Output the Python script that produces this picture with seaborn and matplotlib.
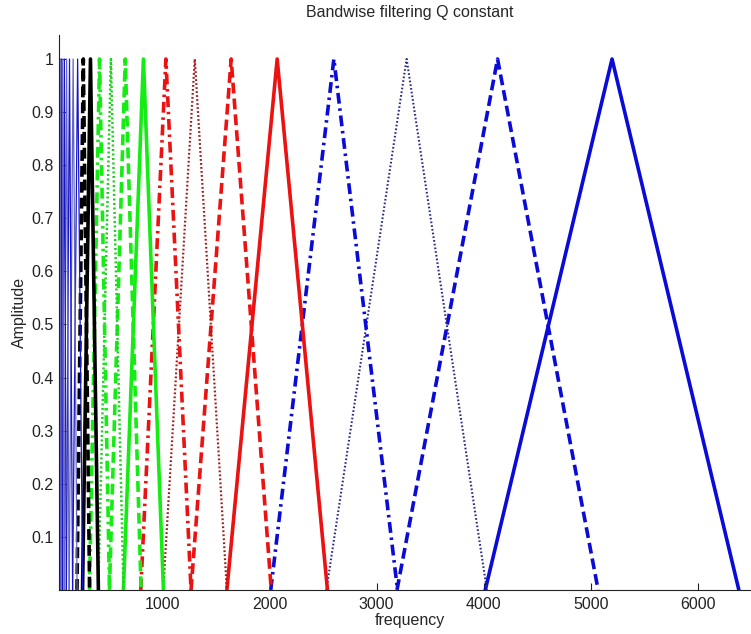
import matplotlib
matplotlib.use("Agg")
import matplotlib.pyplot as plt
import seaborn as sns
import pandas as pd

# Centre frequency and band edges (Hz) of each triangular filter, highest first
centers = [5200, 4130, 3280, 2600, 2070, 1640, 1300, 1030, 820, 650, 516, 410,
           325, 258, 205, 163, 129, 102, 81, 64, 51, 41]
lows = [4015, 3190, 2530, 2010, 1600, 1265, 1005, 795, 633, 502, 398, 316,
        251, 199, 158, 126, 100, 79, 63, 49, 39, 32]
highs = [6385, 5070, 4030, 3195, 2540, 2015, 1600, 1265, 1007, 798, 634, 503,
         399, 317, 252, 200, 158, 125, 99, 79, 63, 50]
peak_amplitude = [1.0] * len(centers)

xticks = [1000, 2000, 3000, 4000, 5000, 6000]
yticks = [0.1, 0.2, 0.3, 0.4, 0.5, 0.6, 0.7, 0.8, 0.9, 1.0]
ytick_labels = ["0.1", "0.2", "0.3", "0.4", "0.5", "0.6", "0.7", "0.8", "0.9", "1"]

BLUE, RED, GREEN, BLACK = "#0b0bd8", "#ec1212", "#14ec14", "#000000"
SOLID = "-"
DASH = (0, (3.0, 1.4))
DOT = (0, (0.8, 1.0))
DASHDOT = (0, (3.0, 1.3, 0.7, 1.3))
THICK = 2.6

# (colour, linestyle, linewidth) per filter, in the same order as `centers`
styles = [
    (BLUE, SOLID, THICK), (BLUE, DASH, THICK), ("#2a2a8a", DOT, 1.5), (BLUE, DASHDOT, THICK),
    (RED, SOLID, THICK), (RED, DASH, THICK), ("#a81818", DOT, 1.6), (RED, DASHDOT, THICK),
    (GREEN, SOLID, THICK), (GREEN, DASH, THICK), ("#22cc22", DOT, 1.8), (GREEN, DASHDOT, THICK),
    (BLACK, SOLID, THICK), (BLACK, DASH, THICK),
    ("#1515c8", SOLID, 0.9), ("#6666c0", SOLID, 0.9), ("#1515c8", SOLID, 0.9),
    ("#6666c0", SOLID, 0.9), ("#1515c8", SOLID, 0.9), ("#6666c0", SOLID, 0.9),
    ("#1515c8", SOLID, 0.9), ("#6666c0", SOLID, 0.9),
]

sns.set_style("ticks")
plt.rcParams["font.family"] = ["Liberation Sans", "DejaVu Sans"]
FS = 11.5

fig = plt.figure(figsize=(7.51, 6.34), dpi=100)
ax = fig.add_axes([0.079, 0.0696, 0.934, 0.875])

for i, (lo, fc, hi, amp) in enumerate(zip(lows, centers, highs, peak_amplitude)):
    df = pd.DataFrame({"frequency": [lo, fc, hi], "Amplitude": [0.0, amp, 0.0]})
    color, ls, lw = styles[i]
    sns.lineplot(data=df, x="frequency", y="Amplitude", ax=ax, sort=False,
                 color=color, linestyle=ls, linewidth=lw, estimator=None)

ax.set_xlim(34, 6590)
ax.set_ylim(0, 1.045)
ax.set_xticks(xticks)
ax.set_xticklabels([str(t) for t in xticks])
ax.set_yticks(yticks)
ax.set_yticklabels(ytick_labels)
ax.tick_params(direction="in", length=5, width=0.8, colors="#222222",
               labelsize=FS, pad=5)
ax.tick_params(axis="y", pad=4)
for side in ("top", "right"):
    ax.spines[side].set_visible(False)
for side in ("left", "bottom"):
    ax.spines[side].set_linewidth(0.8)
    ax.spines[side].set_color("#222222")

ax.set_title("Bandwise filtering Q constant", fontsize=FS, pad=13)
ax.set_xlabel("frequency", fontsize=FS, labelpad=1)
ax.set_ylabel("Amplitude", fontsize=FS, labelpad=3)

fig.savefig("out.png", dpi=100)
